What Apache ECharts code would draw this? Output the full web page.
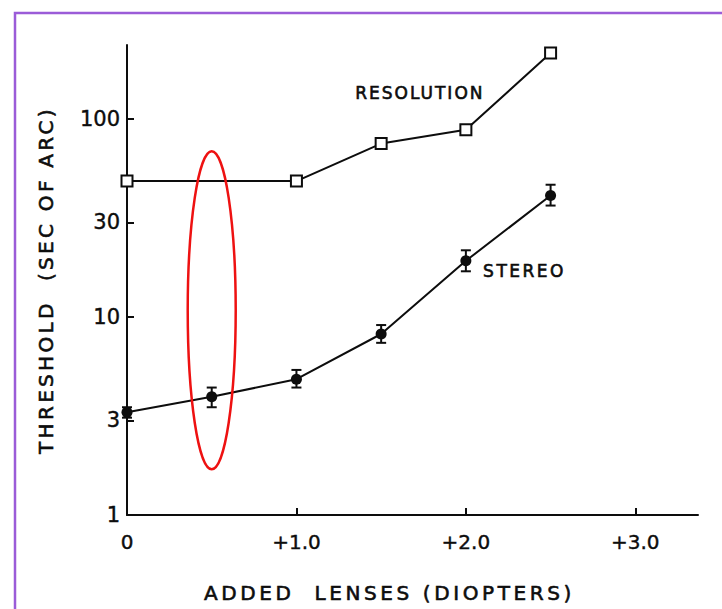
<!DOCTYPE html>
<html>
<head>
<meta charset="utf-8">
<script src="https://cdn.jsdelivr.net/npm/echarts@6/dist/echarts.min.js"></script>
<style>
  html, body { margin: 0; padding: 0; background: #fff; }
  #chart { width: 722px; height: 609px; }
</style>
</head>
<body>
<div id="chart"></div>
<script>
// Added lens power (diopters)
const resolutionX = [0, 1.0, 1.5, 2.0, 2.5];
const resolutionY = [48.5, 48.5, 75, 88, 215];

const stereoX = [0, 0.5, 1.0, 1.5, 2.0, 2.5];
const stereoY = [3.3, 3.95, 4.85, 8.2, 19.2, 41];
const stereoLow = [3.1, 3.5, 4.4, 7.4, 17.0, 36.5];
const stereoHigh = [3.5, 4.4, 5.4, 9.1, 21.7, 46.5];

const yTickValues = [1, 3, 10, 30, 100];
const xTickLabels = { 0: '0', 1: '+1.0', 2: '+2.0', 3: '+3.0' };

const X_TITLE = 'ADDED  LENSES (DIOPTERS)';
const Y_TITLE = 'THRESHOLD  (SEC OF ARC)';

const FONT = 'DejaVu Sans';
const INK = '#0d0d0d';
// slightly heavier lettering than the regular face
const heavy = { textBorderColor: INK, textBorderWidth: 0.6 };
const chart = echarts.init(document.getElementById('chart'), null, { renderer: 'svg' });

const zip = (xs, ys) => xs.map((x, i) => [x, ys[i]]);

chart.setOption({
  backgroundColor: '#fff',
  animation: false,
  grid: { left: 127, top: 45, right: 24, bottom: 94, containLabel: false },
  xAxis: {
    type: 'value',
    min: 0,
    max: 3.37,
    interval: 1,
    name: X_TITLE,
    nameLocation: 'middle',
    nameGap: 68,
    nameTextStyle: { fontFamily: FONT, fontSize: 20, color: INK, padding: [0, 46, 0, 0], ...heavy },
    axisLine: { show: true, onZero: false, lineStyle: { color: INK, width: 2 } },
    axisTick: { show: true, inside: true, length: 7, lineStyle: { color: INK, width: 2 } },
    axisLabel: {
      fontFamily: FONT, fontSize: 20, color: INK, margin: 17,
      showMaxLabel: false,
      formatter: v => xTickLabels[Math.round(v)] ?? '',
      textBorderColor: INK, textBorderWidth: 0.4
    },
    splitLine: { show: false }
  },
  yAxis: {
    type: 'log',
    logBase: 10,
    min: 1,
    max: 236,
    name: Y_TITLE,
    nameLocation: 'middle',
    nameGap: 71,
    nameTextStyle: { fontFamily: FONT, fontSize: 20, color: INK, ...heavy },
    axisLine: { show: true, lineStyle: { color: INK, width: 2 } },
    axisTick: { show: true, inside: true, length: 7, customValues: yTickValues, lineStyle: { color: INK, width: 2 } },
    axisLabel: {
      fontFamily: FONT, fontSize: 21, color: INK, margin: 7,
      customValues: yTickValues,
      formatter: v => String(Math.round(v)),
      textBorderColor: INK, textBorderWidth: 0.4
    },
    splitLine: { show: false },
    minorTick: { show: false }
  },
  series: [
    {
      name: 'RESOLUTION',
      type: 'line',
      data: zip(resolutionX, resolutionY),
      symbol: 'rect',
      symbolSize: 11,
      showAllSymbol: true,
      lineStyle: { color: INK, width: 2 },
      itemStyle: { color: '#fff', borderColor: INK, borderWidth: 2 },
      z: 3
    },
    {
      name: 'STEREO',
      type: 'line',
      data: zip(stereoX, stereoY),
      symbol: 'circle',
      symbolSize: 11,
      lineStyle: { color: INK, width: 2 },
      itemStyle: { color: INK },
      z: 3
    },
    {
      name: 'STEREO error',
      type: 'custom',
      data: stereoX.map((x, i) => [x, stereoLow[i], stereoHigh[i]]),
      renderItem: (params, api) => {
        const x = api.value(0);
        const top = api.coord([x, api.value(2)]);
        const bot = api.coord([x, api.value(1)]);
        const w = 5;
        const st = { stroke: INK, lineWidth: 2 };
        return {
          type: 'group',
          children: [
            { type: 'line', shape: { x1: top[0], y1: top[1], x2: bot[0], y2: bot[1] }, style: st },
            { type: 'line', shape: { x1: top[0] - w, y1: top[1], x2: top[0] + w, y2: top[1] }, style: st },
            { type: 'line', shape: { x1: bot[0] - w, y1: bot[1], x2: bot[0] + w, y2: bot[1] }, style: st }
          ]
        };
      },
      z: 2
    }
  ]
});

// Series captions and the highlight ring, placed in data space
const resLabelPos = chart.convertToPixel({ gridIndex: 0 }, [1.345, 137]);
const stLabelPos = chart.convertToPixel({ gridIndex: 0 }, [2.1, 17.7]);
const ringCenter = chart.convertToPixel({ gridIndex: 0 }, [0.5, 10.8]);

chart.setOption({
  graphic: [
    {
      type: 'text', left: resLabelPos[0], top: resLabelPos[1] - 8,
      style: { text: 'RESOLUTION', font: '17px "DejaVu Sans"', fill: INK, stroke: INK, lineWidth: 0.6 }
    },
    {
      type: 'text', left: stLabelPos[0], top: stLabelPos[1] - 6,
      style: { text: 'STEREO', font: '17px "DejaVu Sans"', fill: INK, stroke: INK, lineWidth: 0.6 }
    },
    {
      type: 'ellipse',
      shape: { cx: ringCenter[0], cy: ringCenter[1], rx: 24, ry: 159 },
      style: { fill: 'none', stroke: '#ee1111', lineWidth: 2.5 },
      z: 10
    },
    {
      type: 'polyline',
      shape: { points: [[15, 609], [15, 13], [722, 13]] },
      style: { fill: 'none', stroke: '#9b5cd8', lineWidth: 2.5 },
      z: 10
    }
  ]
});

// Wide lettering for the titles and captions (SVG text supports letter-spacing)
const spacing = {
  [X_TITLE]: '3.6px',
  [Y_TITLE]: '3.3px',
  'RESOLUTION': '2px',
  'STEREO': '2.5px'
};
document.querySelectorAll('#chart text').forEach(t => {
  const s = spacing[t.textContent];
  if (s) t.style.letterSpacing = s;
});
</script>
</body>
</html>
